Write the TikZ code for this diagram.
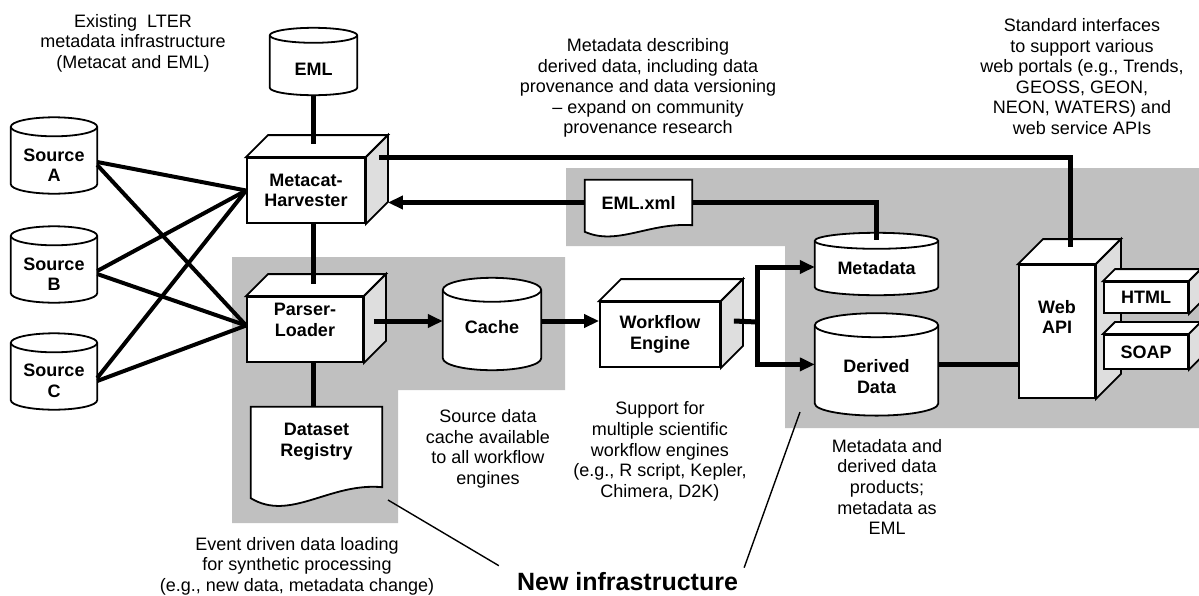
\documentclass[tikz,border=0pt]{standalone}
\usepackage{fontspec}
\setmainfont{Liberation Sans}
\usetikzlibrary{arrows.meta, calc, positioning}

\definecolor{regiongray}{RGB}{192,192,192}
\definecolor{facegray}{RGB}{222,222,222}

\pgfdeclarelayer{back}
\pgfdeclarelayer{mid}
\pgfsetlayers{back,mid,main}

\newcommand{\labelfont}{\fontsize{18}{20.5}\selectfont\bfseries}
\newcommand{\notefont}{\fontsize{18}{20.6}\selectfont}
\newcommand{\bannerfont}{\fontsize{25}{28}\selectfont\bfseries}

% cylinder round a node, #2 = half height of the top ellipse
\newcommand{\drum}[2]{%
  \begin{pgfonlayer}{mid}
    \draw[outline, fill=white] let \p1=(#1.north west), \p2=(#1.south east), \n1={(\x2-\x1)/2} in
      (\x1,\y1+#2) -- (\x1,\y2+#2) arc[start angle=180, end angle=360, x radius=\n1, y radius=#2]
      -- (\x2,\y1+#2) arc[start angle=0, end angle=180, x radius=\n1, y radius=#2] -- cycle;
    \draw[outline] let \p1=(#1.north west), \p2=(#1.south east), \n1={(\x2-\x1)/2} in
      (\x1,\y1+#2) arc[start angle=180, end angle=360, x radius=\n1, y radius=#2];
  \end{pgfonlayer}}

% top and side of a box
\newcommand{\cubeface}[2]{%
  \begin{pgfonlayer}{mid}
    \draw[outline, fill=white] (#1.north west) -- ++(#2,#2) -- ([shift={(#2,#2)}]#1.north east) -- (#1.north east) -- cycle;
    \draw[outline, fill=facegray] (#1.north east) -- ++(#2,#2) -- ([shift={(#2,#2)}]#1.south east) -- (#1.south east) -- cycle;
  \end{pgfonlayer}}

% sheet with a wavy lower edge, #2 = wave size
\newcommand{\docsheet}[2]{%
  \begin{pgfonlayer}{mid}
    \draw[outline, fill=white] (#1.north west) -- ($(#1.south west)+(0pt,{-11pt*#2})$)
      .. controls ($(#1.south west)!0.3!(#1.south east)+(0pt,{-35pt*#2})$)
      and ($(#1.south west)!0.6!(#1.south east)+(0pt,{5pt*#2})$) .. (#1.south east)
      -- (#1.north east) -- cycle;
  \end{pgfonlayer}}

\begin{document}
\begin{tikzpicture}[x=1pt, y=-1pt,
    outline/.style={line width=1.8pt},
    box/.style={rectangle, draw, outline, fill=white, font=\labelfont, align=center, inner sep=0pt},
    store/.style={rectangle, font=\labelfont, align=center, inner sep=0pt},
    note/.style={font=\notefont, align=center, inner sep=0pt},
    conn/.style={line width=5pt},
    srclink/.style={line width=4pt},
    arrow/.style={conn, -{Triangle[length=15pt, width=13pt]}},
    pointer/.style={line width=1.4pt}
]
\useasboundingbox (0,0) rectangle (1199,595);

% shaded areas
\begin{pgfonlayer}{back}
  \fill[regiongray] (232,257) -- (565,257) -- (565,390) -- (398,390) -- (398,523) -- (232,523) -- cycle;
  \fill[regiongray] (566,168) -- (1199,168) -- (1199,428) -- (785,428) -- (785,246) -- (566,246) -- cycle;
\end{pgfonlayer}

% existing infrastructure
\node[store, minimum width=87pt, minimum height=52pt] (eml) at (313.5,69) {EML};
\node[store, minimum width=86pt, minimum height=57pt] (srcA) at (54,165) {Source\\A};
\node[store, minimum width=86pt, minimum height=57pt] (srcB) at (54,274) {Source\\B};
\node[store, minimum width=86pt, minimum height=57pt] (srcC) at (54,381) {Source\\C};
\node[box, minimum width=118pt, minimum height=65pt] (metacat) at (306,190.5) {Metacat-\\Harvester};

% new infrastructure
\node[box, minimum width=116pt, minimum height=65pt, text depth=19pt] (parser) at (305,329.5) {Parser-\\Loader};
\node[store, minimum width=131pt, minimum height=80pt, text depth=14pt] (dataset) at (316.5,447) {Dataset\\Registry};
\node[store, minimum width=98pt, minimum height=68pt, text depth=18pt] (cache) at (492,336) {Cache};
\node[box, minimum width=120pt, minimum height=65pt] (workflow) at (660,334.5) {Workflow\\Engine};
\node[store, minimum width=107pt, minimum height=45pt] (emlxml) at (638.5,202.5) {EML.xml};
\node[store, minimum width=123pt, minimum height=46pt, text depth=8pt] (metadata) at (876.5,272) {Metadata};
\node[store, minimum width=123pt, minimum height=78pt, below=42pt of metadata] (derived) {Derived\\Data};
\node[box, minimum width=76pt, minimum height=133pt, text depth=29pt] (webapi) at (1057,331.5) {Web\\API};
\node[box, minimum width=84pt, minimum height=31pt] (html) at (1146,297.5) {HTML};
\node[box, minimum width=84pt, minimum height=34pt, below=20pt of html] (soap) {SOAP};

\drum{eml}{7.5pt}
\drum{srcA}{9.5pt}
\drum{srcB}{9.5pt}
\drum{srcC}{9.5pt}
\drum{cache}{12pt}
\drum{metadata}{8pt}
\drum{derived}{12pt}
\cubeface{metacat}{22pt}
\cubeface{parser}{22pt}
\cubeface{workflow}{22pt}
\cubeface{webapi}{25pt}
\cubeface{html}{12pt}
\cubeface{soap}{12pt}
\docsheet{dataset}{1}
\docsheet{emlxml}{0.6}

% notes
\node[note] (lternote) at (133,43) {Existing~~LTER\\metadata infrastructure\\(Metacat and EML)};
\node[note] (provnote) at (648,88) {Metadata describing\\derived data, including data\\provenance and data versioning\\\textendash{} expand on community\\provenance research};
\node[note] (portalnote) at (1082,76.5) {Standard interfaces\\to support various\\web portals (e.g., Trends,\\GEOSS, GEON,\\NEON, WATERS) and\\web service APIs};
\node[note] (cachenote) at (488,449) {Source data\\cache available\\to all workflow\\engines};
\node[note] (enginenote) at (660,451.5) {Support for\\multiple scientific\\workflow engines\\(e.g., R script, Kepler,\\Chimera, D2K)};
\node[note] (productnote) at (887,487) {Metadata and\\derived data\\products;\\metadata as\\EML};
\node[note] (eventnote) at (297,566) {Event driven data loading\\for synthetic processing\\(e.g., new data, metadata change)};
\node[font=\bannerfont, inner sep=0pt, anchor=base] (newinfra) at (627.5,590) {New infrastructure};

\coordinate (leftgraytip) at (388,500);
\coordinate (rightgraytip) at (800,412);
\coordinate (cachein) at ([yshift=15pt]cache.west);
\coordinate (split) at (757,322);

% sources
\foreach \src in {srcA, srcB, srcC} {
  \draw[srclink] ([yshift=3pt]\src.east) -- (metacat.west);
  \draw[srclink] (\src.east) -- ([yshift=4pt]parser.west);
}

% connectors
\draw[conn] (eml.south) -- ([yshift=13pt]eml.south |- metacat.north);
\draw[conn] (eml.south |- metacat.south) -- ([yshift=12pt]eml.south |- parser.north);
\draw[conn] (eml.south |- parser.south) -- (eml.south |- dataset.north);
\draw[conn] ([xshift=13pt]metacat.north east) -| ([shift={(13pt,17pt)}]webapi.north);
\draw[arrow] (emlxml.west) -- ([xshift=22pt]emlxml.west -| metacat.east);
\draw[conn] (emlxml.east) -| ([yshift=9pt]metadata.north);
\draw[arrow] ([xshift=10pt]parser.east |- cachein) -- (cachein);
\draw[arrow] (cachein -| cache.east) -- (cachein -| workflow.west);
\draw[conn] ([xshift=13pt]workflow.east |- cachein) -- (split);
\draw[arrow] (split) |- ([yshift=5pt]metadata.west);
\draw[arrow] (split) |- ([yshift=12pt]derived.west);
\draw[conn] ([yshift=12pt]derived.east) -- ([yshift=12pt]derived.east -| webapi.west);

% pointers
\draw[pointer] ([shift={(-18pt,6pt)}]newinfra.north west) -- (leftgraytip);
\draw[pointer] ([shift={(6pt,4pt)}]newinfra.north east) -- (rightgraytip);

\end{tikzpicture}
\end{document}
